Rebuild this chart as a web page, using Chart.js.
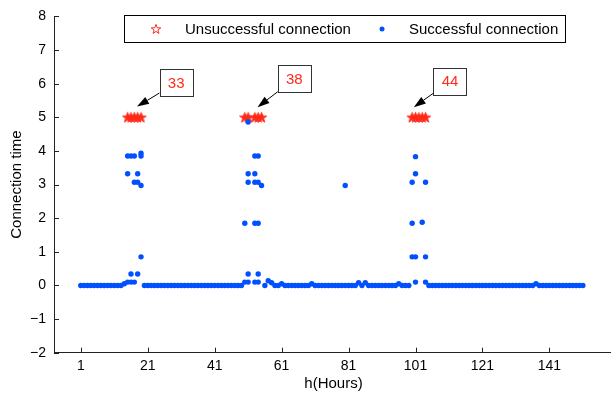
<!DOCTYPE html>
<html>
<head>
<meta charset="utf-8">
<script src="https://cdn.jsdelivr.net/npm/chart.js@4.4.1/dist/chart.umd.min.js"></script>
<style>
  html, body { margin: 0; padding: 0; background: #fff; overflow: hidden; }
  #wrap { position: relative; width: 620px; height: 393px; }
</style>
</head>
<body>
<div id="wrap"><canvas id="chart" width="620" height="393"></canvas></div>
<script>
// Connexions réussies : heure et temps de connexion
const successHours = [
  1, 2, 3, 4, 5, 6, 7, 8, 9, 10, 11, 12, 13, 14,
  15, 15, 15, 16, 16, 16, 17, 17, 17, 18, 18, 18, 19, 19, 19, 19,
  20, 21, 22, 23, 24, 25, 26, 27, 28, 29, 30, 31, 32, 33, 34, 35, 36, 37, 38, 39,
  40, 41, 42, 43, 44, 45, 46, 47, 48, 49,
  50, 50, 51, 51, 51, 51, 51, 53, 53, 53, 53, 53, 54, 54, 54, 54, 54, 55,
  56, 57, 58, 59, 60, 61, 62, 63, 64, 65, 66, 67, 68, 69, 70, 71, 72, 73, 74, 75,
  76, 77, 78, 79, 80, 80, 81, 82, 83, 84, 85, 86, 87, 88, 89, 90, 91, 92, 93, 94,
  95, 96, 97, 98, 99,
  100, 100, 100, 101, 101, 101, 101, 103, 104, 104, 104,
  105, 106, 107, 108, 109, 110, 111, 112, 113, 114, 115, 116, 117, 118, 119, 120,
  121, 122, 123, 124, 125, 126, 127, 128, 129, 130, 131, 132, 133, 134, 135, 136,
  137, 138, 139, 140, 141, 142, 143, 144, 145, 146, 147, 148, 149, 150, 151
];
const successTimes = [
  0, 0, 0, 0, 0, 0, 0, 0, 0, 0, 0, 0, 0, 0.05,
  3.85, 3.32, 0.10, 3.85, 0.34, 0.10, 3.85, 3.07, 0.10, 3.32, 3.07, 0.34, 3.93, 3.85, 2.97, 0.85,
  0, 0, 0, 0, 0, 0, 0, 0, 0, 0, 0, 0, 0, 0, 0, 0, 0, 0, 0, 0,
  0, 0, 0, 0, 0, 0, 0, 0, 0, 0,
  1.85, 0.10, 4.86, 3.32, 3.07, 0.34, 0.10, 3.85, 3.32, 3.07, 1.85, 0.10, 3.85, 3.07, 1.85, 0.34, 0.10, 2.97,
  0, 0.14, 0.08, 0, 0, 0.05, 0, 0, 0, 0, 0, 0, 0, 0, 0.05, 0, 0, 0, 0, 0,
  0, 0, 0, 0, 0, 2.97, 0, 0, 0, 0.08, 0, 0.08, 0, 0, 0, 0, 0, 0, 0, 0,
  0, 0.05, 0, 0, 0,
  3.07, 1.85, 0.85, 3.83, 3.32, 0.85, 0.10, 1.88, 3.07, 0.85, 0.10,
  0, 0, 0, 0, 0, 0, 0, 0, 0, 0, 0, 0, 0, 0, 0, 0,
  0, 0, 0, 0, 0, 0, 0, 0, 0, 0, 0, 0, 0, 0, 0, 0,
  0.05, 0, 0, 0, 0, 0, 0, 0, 0, 0, 0, 0, 0, 0, 0
];

// Connexions échouées (étoiles à 5)
const failHours = [15, 16, 17, 18, 19, 50, 51, 53, 54, 55, 100, 101, 102, 103, 104];
const failTimes = [5, 5, 5, 5, 5, 5, 5, 5, 5, 5, 5, 5, 5, 5, 5];

// Graduations
const xTicks = [1, 21, 41, 61, 81, 101, 121, 141];
const yTicks = [-2, -1, 0, 1, 2, 3, 4, 5, 6, 7, 8];

// Annotations : nombre d'échecs par pic
const calloutText = ["33", "38", "44"];
const calloutX = [29.5, 64.8, 111.3];
const calloutY = [6.02, 6.14, 6.07];
const arrowTipX = [17.8, 53.8, 100.5];
const arrowTipY = [5.32, 5.30, 5.30];

const RED = "#ff2a1a";
const BLUE = "rgb(0, 80, 255)";
const AXIS = "#222";
const FONT = "'Liberation Sans', Arial, sans-serif";

function makeStar(color, R, filled) {
  const size = Math.ceil(R * 2 + 2);
  const c = document.createElement("canvas");
  c.width = size;
  c.height = size;
  const g = c.getContext("2d");
  g.strokeStyle = color;
  g.fillStyle = color;
  g.lineWidth = 1;
  g.beginPath();
  for (let i = 0; i < 10; i++) {
    const r = i % 2 === 0 ? R : R * 0.4;
    const a = -Math.PI / 2 + (i * Math.PI) / 5;
    const px = size / 2 + r * Math.cos(a);
    const py = size / 2 + R * 0.08 + r * Math.sin(a);
    if (i === 0) g.moveTo(px, py);
    else g.lineTo(px, py);
  }
  g.closePath();
  if (filled) g.fill();
  g.stroke();
  return c;
}
const legendStar = makeStar(RED, 5, false);
const plotStar = makeStar(RED, 5.4, true);

// Graduations vers l'intérieur, façon MATLAB
const inwardTicks = {
  id: "inwardTicks",
  afterDraw(chart) {
    const { ctx, chartArea } = chart;
    const x = chart.scales.x, y = chart.scales.y;
    ctx.save();
    ctx.strokeStyle = AXIS;
    ctx.lineWidth = 1;
    ctx.beginPath();
    xTicks.forEach((v) => {
      const px = Math.round(x.getPixelForValue(v)) + 0.5;
      ctx.moveTo(px, chartArea.bottom);
      ctx.lineTo(px, chartArea.bottom - 5);
    });
    yTicks.forEach((v) => {
      const py = Math.round(y.getPixelForValue(v)) + 0.5;
      ctx.moveTo(chartArea.left, py);
      ctx.lineTo(chartArea.left + 5, py);
    });
    ctx.stroke();
    ctx.restore();
  },
};

// Boîtes de texte + flèches
const callouts = {
  id: "callouts",
  afterDraw(chart) {
    const { ctx } = chart;
    const x = chart.scales.x, y = chart.scales.y;
    const hw = 16.5, hh = 13.5;
    ctx.save();
    calloutText.forEach((txt, i) => {
      const cx = x.getPixelForValue(calloutX[i]);
      const cy = y.getPixelForValue(calloutY[i]);
      const tx = x.getPixelForValue(arrowTipX[i]);
      const ty = y.getPixelForValue(arrowTipY[i]);
      const dx = tx - cx, dy = ty - cy;
      const t = Math.min(hw / Math.abs(dx), hh / Math.abs(dy));
      const sx = cx + dx * t, sy = cy + dy * t;
      const len = Math.hypot(tx - sx, ty - sy);
      const ux = (tx - sx) / len, uy = (ty - sy) / len;
      const head = 12, half = 4;
      const bx = tx - ux * head, by = ty - uy * head;
      ctx.strokeStyle = "#000";
      ctx.lineWidth = 1;
      ctx.beginPath();
      ctx.moveTo(sx, sy);
      ctx.lineTo(bx, by);
      ctx.stroke();
      ctx.fillStyle = "#000";
      ctx.beginPath();
      ctx.moveTo(tx, ty);
      ctx.lineTo(bx - uy * half, by + ux * half);
      ctx.lineTo(bx + uy * half, by - ux * half);
      ctx.closePath();
      ctx.fill();

      ctx.fillStyle = "#fff";
      ctx.fillRect(cx - hw, cy - hh, hw * 2, hh * 2);
      ctx.strokeStyle = "#333";
      ctx.strokeRect(Math.round(cx - hw) + 0.5, Math.round(cy - hh) + 0.5, hw * 2, hh * 2);
      ctx.fillStyle = RED;
      ctx.font = "15px " + FONT;
      ctx.textAlign = "center";
      ctx.textBaseline = "middle";
      ctx.fillText(txt, cx, cy + 1);
    });
    ctx.restore();
  },
};

// Légende encadrée en haut
const boxLegend = {
  id: "boxLegend",
  afterDraw(chart) {
    const { ctx } = chart;
    const ds = chart.data.datasets;
    ctx.save();
    ctx.fillStyle = "#fff";
    ctx.fillRect(124, 15, 441, 28);
    ctx.strokeStyle = "#000";
    ctx.lineWidth = 1;
    ctx.strokeRect(124.5, 15.5, 441, 27);
    const cy = 29;
    ctx.drawImage(legendStar, 156 - legendStar.width / 2, cy - legendStar.height / 2);
    ctx.fillStyle = BLUE;
    ctx.beginPath();
    ctx.arc(382, cy, 2.5, 0, Math.PI * 2);
    ctx.fill();
    ctx.fillStyle = "#000";
    ctx.font = "15px " + FONT;
    ctx.textAlign = "left";
    ctx.textBaseline = "middle";
    ctx.fillText(ds[1].label, 185, cy + 1);
    ctx.fillText(ds[0].label, 409, cy + 1);
    ctx.restore();
  },
};

const successPoints = successHours.map((h, i) => ({ x: h, y: successTimes[i] }));
const failPoints = failHours.map((h, i) => ({ x: h, y: failTimes[i] }));

new Chart(document.getElementById("chart"), {
  type: "scatter",
  data: {
    datasets: [
      {
        label: "Successful connection",
        data: successPoints,
        backgroundColor: BLUE,
        borderWidth: 0,
        pointRadius: 2.7,
      },
      {
        label: "Unsuccessful connection",
        data: failPoints,
        pointStyle: plotStar,
        pointRadius: 6,
      },
    ],
  },
  options: {
    responsive: false,
    devicePixelRatio: 1,
    animation: false,
    layout: { padding: { left: 0, top: 10.7, right: 6, bottom: 0 } },
    plugins: {
      legend: { display: false },
      tooltip: { enabled: false },
    },
    scales: {
      x: {
        type: "linear",
        min: -7,
        max: 160,
        afterBuildTicks: (s) => { s.ticks = xTicks.map((v) => ({ value: v })); },
        afterFit: (s) => { s.height = 40.3; },
        grid: { display: false, drawTicks: false },
        border: { display: true, color: AXIS, width: 1 },
        ticks: { color: "#000", padding: 5, font: { family: FONT, size: 14 } },
        title: {
          display: true,
          text: "h(Hours)",
          color: "#000",
          font: { family: FONT, size: 15 },
          padding: { top: 0, bottom: 0 },
        },
      },
      y: {
        min: -2,
        max: 8,
        afterBuildTicks: (s) => { s.ticks = yTicks.map((v) => ({ value: v })); },
        afterFit: (s) => { s.width = 54; },
        grid: { display: false, drawTicks: false },
        border: { display: true, color: AXIS, width: 1 },
        ticks: {
          color: "#000",
          padding: 8,
          font: { family: FONT, size: 14 },
          callback: (v) => (v < 0 ? "\u2212" + Math.abs(v) : String(v)),
        },
        title: {
          display: true,
          text: "Connection time",
          color: "#000",
          font: { family: FONT, size: 15 },
          padding: { top: 8, bottom: 0 },
        },
      },
    },
  },
  plugins: [inwardTicks, callouts, boxLegend],
});
</script>
</body>
</html>
